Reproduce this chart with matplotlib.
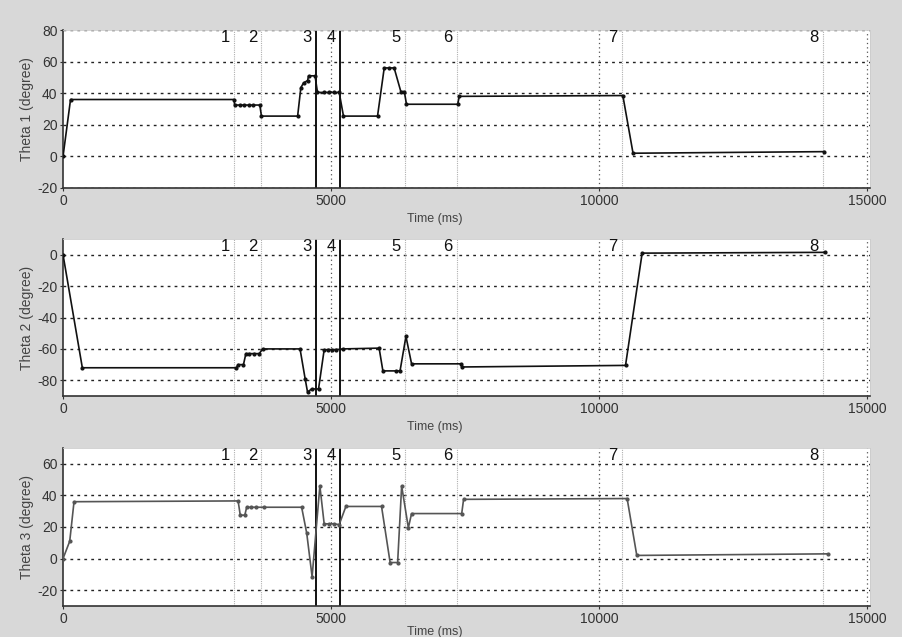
import numpy as np
import matplotlib
matplotlib.use("Agg")
import matplotlib.pyplot as plt
import matplotlib.transforms as mtransforms

plt.rcParams['font.family'] = ['Liberation Sans Narrow', 'Liberation Sans', 'DejaVu Sans']
plt.rcParams['axes.unicode_minus'] = False

# joint angle traces (time in ms, angle in degree)
t1 = [0, 140, 3190, 3200, 3300, 3380, 3460, 3540, 3670, 3700, 4375, 4435, 4485,
      4560, 4580, 4700, 4745, 4870, 4965, 5055, 5150, 5230, 5865, 5990, 6085,
      6175, 6300, 6365, 6405, 7360, 7390, 10440, 10630, 14200]
theta1 = [0, 36, 36, 32.5, 32.5, 32.5, 32.5, 32.5, 32.5, 25.5, 25.5, 43.5, 46.5,
          48, 51, 51, 40.5, 40.5, 40.5, 40.5, 40.5, 25.5, 25.5, 56, 56,
          56, 41, 41, 33, 33, 38, 38.5, 2, 3]

t2 = [0, 360, 3235, 3265, 3365, 3410, 3470, 3560, 3660, 3720, 4420, 4515, 4560,
      4635, 4765, 4870, 4935, 5025, 5090, 5215, 5895, 5965, 6210, 6285, 6395,
      6500, 7420, 7435, 10490, 10800, 14210]
theta2 = [0, -72, -72, -70, -70, -63, -63, -63, -63, -60, -60, -79, -87.5,
          -85.5, -85.5, -60.5, -60.5, -60.5, -60.5, -60, -59.5, -74, -74, -74, -52,
          -69.5, -69.5, -71.5, -70.5, 1, 1.5]

t3 = [0, 125, 205, 3265, 3305, 3390, 3425, 3500, 3595, 3740, 4450, 4545, 4645,
      4790, 4870, 4965, 5055, 5150, 5275, 5940, 6100, 6240, 6315, 6440, 6500,
      7435, 7470, 10520, 10700, 14275]
theta3 = [0, 11, 36, 36.5, 27.5, 27.5, 32.5, 32.5, 32.5, 32.5, 32.5, 16, -11.5,
          46, 22, 22, 22, 21.5, 33, 33, -2.5, -2.5, 46, 19.5, 28.5,
          28.5, 37.5, 38, 2, 3]

# phase markers
events = [3190, 3700, 4720, 5170, 6380, 7350, 10430, 14180]
event_labels = ['1', '2', '3', '4', '5', '6', '7', '8']
solid_events = ['3', '4']

panels = [
    (t1, theta1, 'Theta 1 (degree)', (-20, 80), [-20, 0, 20, 40, 60, 80], '#111111'),
    (t2, theta2, 'Theta 2 (degree)', (-90, 10), [-80, -60, -40, -20, 0], '#111111'),
    (t3, theta3, 'Theta 3 (degree)', (-30, 70), [-20, 0, 20, 40, 60], '#555555'),
]
boxes = [[0.0698, 0.7049, 0.8937, 0.2480],
         [0.0698, 0.3783, 0.8937, 0.2465],
         [0.0698, 0.0487, 0.8937, 0.2480]]
xlabel_y = [-0.16, -0.16, -0.128]

fig = plt.figure(figsize=(9.03, 6.37), dpi=100, facecolor='#d8d8d8')

for (t, th, ylab, ylim, yt, col), box, ly in zip(panels, boxes, xlabel_y):
    ax = fig.add_axes(box)
    ax.set_facecolor('white')
    ax.set_xlim(0, 15050)
    ax.set_ylim(*ylim)
    ax.set_yticks(yt)
    ax.set_xticks([0, 5000, 10000, 15000])
    ax.tick_params(length=2, labelsize=10, colors='#333333', pad=2)

    for y in yt:
        ax.axhline(y, color='#222222', lw=1.0, ls=(0, (2, 3)), zorder=1)
    for x in [5000, 10000, 15000]:
        ax.axvline(x, color='#555555', lw=0.9, ls=(0, (1, 2.5)), zorder=1)

    trans = mtransforms.blended_transform_factory(ax.transData, ax.transAxes)
    for ev, lab in zip(events, event_labels):
        if lab in solid_events:
            ax.axvline(ev, color='#111111', lw=1.4, zorder=2)
        else:
            ax.axvline(ev, color='#b0b0b0', lw=0.8, ls=(0, (1, 1)), zorder=1)
        ax.text(ev - 170, 0.955, lab, transform=trans, ha='center', va='center',
                fontsize=12, color='#111111')

    ax.plot(t, th, color=col, lw=1.2, marker='o', markersize=2.0, zorder=3)

    ax.set_ylabel(ylab, fontsize=10, color='#444444', labelpad=2)
    ax.set_xlabel('Time (ms)', fontsize=9, color='#444444', labelpad=3)
    ax.xaxis.set_label_coords(0.46, ly)

    for side in ['left', 'bottom']:
        ax.spines[side].set_color('#333333')
        ax.spines[side].set_linewidth(1.2)
    for side in ['top', 'right']:
        ax.spines[side].set_color('#cccccc')
        ax.spines[side].set_linewidth(0.6)

fig.savefig('out.png', dpi=100, facecolor=fig.get_facecolor())
